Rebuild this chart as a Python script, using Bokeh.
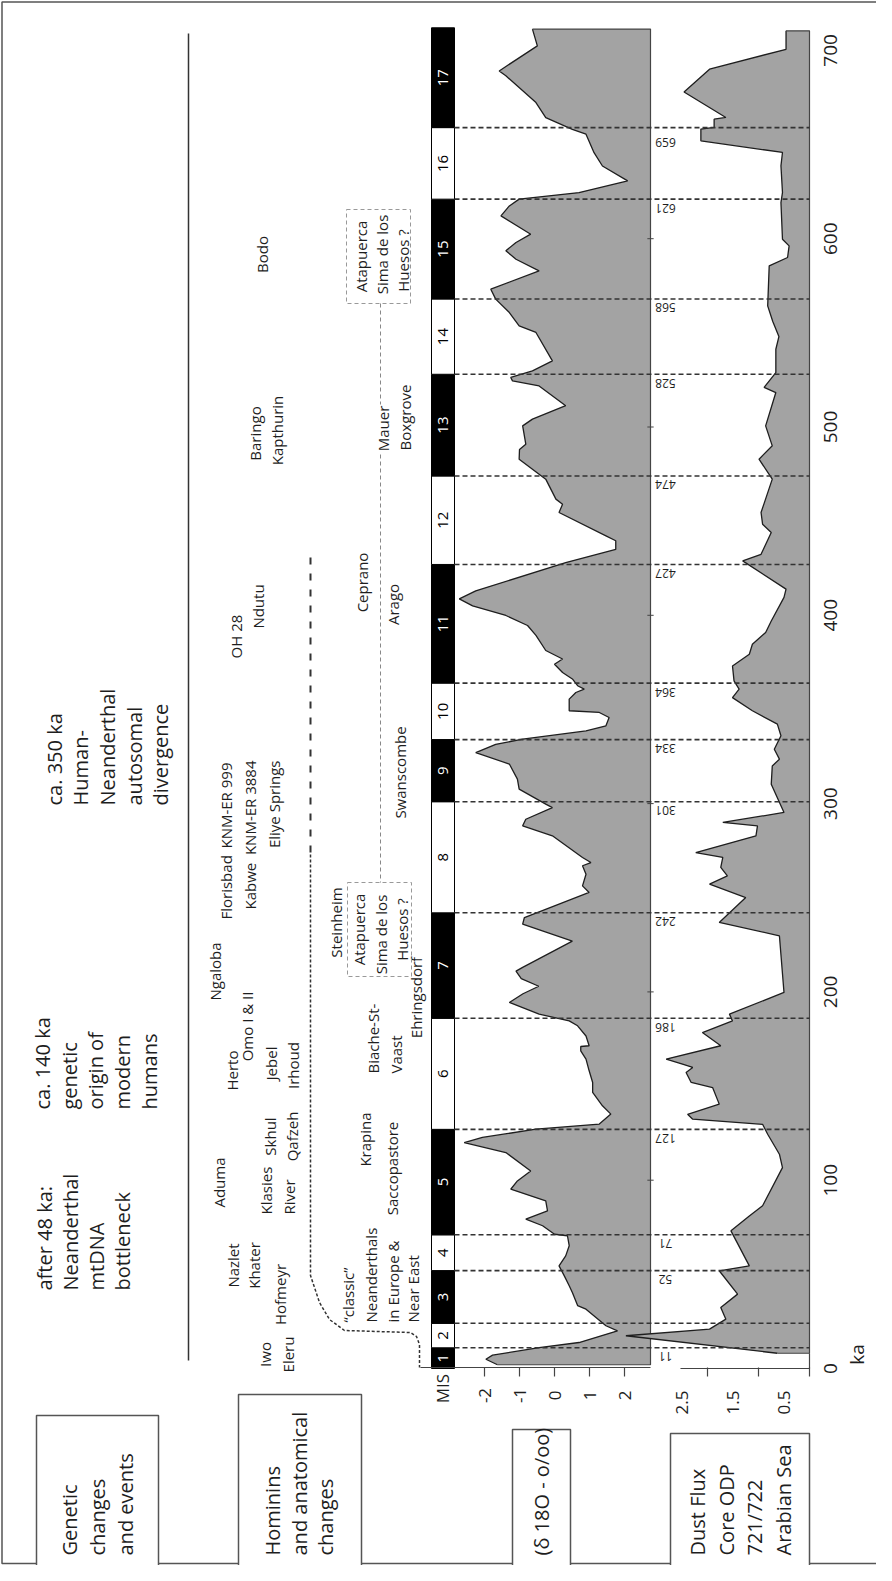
import math
from bokeh.plotting import figure
from bokeh.models import Range1d, ColumnDataSource
from bokeh.core.properties import value
from bokeh.embed import file_html
from bokeh.resources import INLINE

# ---------------- data ----------------
MIS_BOUNDS = [0, 11, 24, 52, 71, 127, 186, 242, 301, 334, 364, 427, 474, 528, 568, 621, 659, 712]
MIS_NUMBERS = [str(i) for i in range(1, 18)]
MIS_DASHED = [11, 24, 52, 71, 127, 186, 242, 301, 334, 364, 427, 474, 528, 568, 621, 659]
MIS_LABELED = [11, 52, 71, 127, 186, 242, 301, 334, 364, 427, 474, 528, 568, 621]
MIS_TOP_LABEL = [659]

D18O_KA = [2.0, 4.9, 7.1, 11.1, 13.8, 20.0, 22.7, 31.5, 33.4, 40.4, 43.9, 49.2, 54.5, 59.8, 65.2,
           70.5, 71.3, 75.8, 79.3, 83.7, 89.0, 95.2, 99.6, 104.9, 114.7, 120.0, 122.7, 127.1,
           129.8, 135.1, 139.5, 146.6, 151.9, 158.1, 164.3, 168.7, 171.0, 171.4, 176.6, 182.0,
           184.6, 188.2, 194.4, 199.0, 203.0, 207.0, 211.0, 213.0, 227.0, 236.0, 239.5, 252.8,
           256.3, 262.5, 267.0, 268.7, 271.4, 282.9, 288.2, 291.7, 297.9, 299.7, 307.7, 313.0,
           321.0, 327.1, 331.5, 334.2, 338.6, 341.3, 345.7, 348.4, 349.3, 355.5, 359.0, 360.8,
           362.6, 366.2, 369.6, 374.0, 376.8, 381.3, 389.3, 394.6, 399.9, 405.0, 408.7, 413.0,
           428.0, 435.0, 439.6, 442.2, 454.6, 459.0, 461.7, 472.3, 482.9, 488.0, 490.9, 500.6,
           504.2, 511.3, 521.8, 524.5, 526.3, 529.8, 535.1, 550.2, 553.7, 560.8, 567.9, 573.2,
           582.9, 589.1, 593.6, 598.0, 602.4, 612.1, 617.4, 621.0, 624.5, 630.7, 638.6, 645.7,
           655.5, 658.1, 664.3, 672.3, 686.5, 689.1, 702.4, 711.3]
D18O_VAL = [-1.63, -1.96, -1.77, -0.44, 0.70, 1.80, 1.47, 0.90, 0.66, 0.51, 0.42, 0.28, 0.13, 0.32, 0.42,
            0.37, 0.00, -0.34, -0.82, -0.20, -0.25, -1.25, -1.06, -0.68, -1.39, -2.58, -2.06, -0.53,
            1.28, 1.61, 1.37, 1.09, 1.09, 0.99, 0.90, 0.75, 0.75, 0.99, 0.90, 0.66,
            0.42, -0.44, -1.29, -0.90, -0.45, -0.95, -1.10, -0.91, 0.51, -0.91, -0.86, 0.99,
            0.80, 0.90, 0.80, 1.04, 0.80, -0.06, -0.91, -0.82, -0.06, -0.25, -1.01, -1.06,
            -1.29, -2.25, -1.68, -0.91, 0.90, 1.47, 1.56, 1.28, 0.42, 0.42, 0.61, 0.85,
            0.66, 0.51, 0.23, 0.00, 0.23, -0.25, -0.53, -0.77, -1.39, -2.34, -2.72, -2.25,
            0.32, 1.75, 1.75, 1.47, 0.13, 0.23, 0.04, -0.25, -1.01, -1.00, -0.82, -0.91,
            -0.63, 0.32, -0.44, -1.20, -1.25, -0.63, -0.06, -0.53, -1.01, -1.29, -1.68, -1.82,
            -0.44, -1.10, -1.39, -1.10, -0.68, -1.53, -1.29, -1.01, 0.70, 2.09, 1.37, 1.13,
            0.90, 0.51, -0.25, -0.53, -1.39, -1.58, -0.49, -0.63]

DUST_KA = [8.1, 17.4, 20.9, 26.2, 32.4, 39.5, 51.9, 54.5, 73.1, 81.0, 86.4, 106.7, 113.8, 124.4,
           129.7, 132.4, 135.0, 140.4, 149.2, 151.9, 157.2, 159.9, 161.6, 164.3, 171.4, 178.4,
           184.6, 188.2, 199.7, 229.8, 236.9, 250.1, 257.2, 261.6, 266.1, 271.4, 274.0, 282.9,
           288.2, 290.0, 295.3, 310.3, 320.0, 323.6, 328.9, 336.0, 342.2, 349.3, 356.3, 360.8,
           365.2, 373.1, 379.3, 384.6, 390.9, 397.0, 409.5, 413.9, 428.9, 432.4, 444.0, 448.4,
           454.6, 472.3, 482.9, 490.0, 500.6, 518.3, 521.0, 528.9, 541.3, 548.0, 556.0, 564.3,
           585.6, 590.0, 596.2, 599.7, 619.2, 624.5, 638.7, 645.8, 652.0, 658.2, 659.1, 663.5,
           664.4, 677.9, 690.0, 700.6, 710.4]
DUST_VAL = [0.63, 3.60, 1.96, 1.64, 1.74, 1.41, 1.77, 1.18, 1.54, 1.18, 0.92, 0.53, 0.59, 0.82,
            0.92, 2.29, 2.39, 1.77, 1.90, 2.32, 2.42, 2.29, 2.49, 2.81, 1.74, 2.10,
            1.51, 1.57, 0.50, 0.59, 1.77, 1.25, 1.96, 1.61, 1.74, 1.70, 2.23, 1.05,
            1.02, 1.70, 0.50, 0.75, 0.73, 0.59, 0.69, 0.56, 0.63, 1.12, 1.51, 1.38,
            1.48, 1.51, 1.18, 1.12, 0.86, 0.75, 0.50, 0.46, 1.31, 0.95, 0.75, 0.92,
            0.95, 0.73, 0.99, 0.73, 0.86, 0.66, 0.89, 0.66, 0.66, 0.60, 0.72, 0.82,
            0.79, 0.43, 0.40, 0.53, 0.56, 0.53, 0.56, 0.53, 2.13, 2.13, 1.87, 1.87,
            1.64, 2.46, 1.96, 0.46, 0.46]

KA_TICKS = [0, 100, 200, 300, 400, 500, 600, 700]
D18O_TICKS = [-2, -1, 0, 1, 2]
DUST_TICKS = [0, 1, 2]
DUST_TICK_LABELS = [2.5, 1.5, 0.5]

GENETIC_EVENTS = [
    ["after 48 ka:", "Neanderthal", "mtDNA", "bottleneck"],
    ["ca. 140 ka", "genetic", "origin of", "modern", "humans"],
    ["ca. 350 ka", "Human-", "Neanderthal", "autosomal", "divergence"],
]

# ---------------- layout constants (page pixels) ----------------
W, H, M = 876, 1565, 8
KA0_Y, PX_PER_KA = 1376.0, 1.883
D18O_ZERO_X, PX_PER_D18O = 562.0, 35.0
DUST_ZERO_X, PX_PER_DUST = 817.0, 51.0
D18O_RIGHT = (658 - D18O_ZERO_X) / PX_PER_D18O
FONT = value("Open Sans")
INK = "#1e1e1e"
GREY = "#a3a3a3"

p = figure(width=W, height=H, x_range=Range1d(M, M + W), y_range=Range1d(M + H, M),
           output_backend="svg", toolbar_location=None, min_border=0,
           x_axis_type=None, y_axis_type=None, background_fill_color="white")
p.outline_line_color = None
p.extra_y_ranges = {"ka": Range1d(start=(KA0_Y - (M + H)) / PX_PER_KA, end=(KA0_Y - M) / PX_PER_KA)}
p.extra_x_ranges = {
    "d18o": Range1d(start=(M - D18O_ZERO_X) / PX_PER_D18O, end=(M + W - D18O_ZERO_X) / PX_PER_D18O),
    "dust": Range1d(start=(DUST_ZERO_X - M) / PX_PER_DUST, end=(DUST_ZERO_X - (M + W)) / PX_PER_DUST),
}


def texts(items, size, align="center", angle=math.pi / 2, color=INK, xr="default", yr="default", baseline="middle"):
    src = ColumnDataSource(dict(t=[i[0] for i in items], x=[i[1] for i in items], y=[i[2] for i in items]))
    p.text(x="x", y="y", text="t", source=src, angle=angle, text_align=align, text_baseline=baseline,
           text_font=FONT, text_font_size=f"{size}px", text_color=color,
           x_range_name=xr, y_range_name=yr)


# outer frame lines and column separator
p.line([M + W, 9.5, 9.5, M + W], [9.5, 9.5, 1571, 1571], line_color="#555", line_width=1.5)
p.line([196, 196], [41, 1368], line_color="#333", line_width=1.5)

# ---------------- delta 18O panel ----------------
p.harea(x1=D18O_VAL, x2=D18O_RIGHT, y=D18O_KA, fill_color=GREY, x_range_name="d18o", y_range_name="ka")
p.line(D18O_VAL, D18O_KA, line_color=INK, line_width=1.3, x_range_name="d18o", y_range_name="ka")
p.line([D18O_VAL[-1], D18O_RIGHT, D18O_RIGHT, D18O_VAL[0]],
       [D18O_KA[-1], D18O_KA[-1], D18O_KA[0], D18O_KA[0]],
       line_color="#444", line_width=1.2, x_range_name="d18o", y_range_name="ka")
# small ka ticks on right border
p.segment(x0=D18O_RIGHT - 0.09, x1=D18O_RIGHT + 0.09, y0=KA_TICKS[1:7], y1=KA_TICKS[1:7],
          line_color="#444", line_width=1, x_range_name="d18o", y_range_name="ka")

# ---------------- dust panel ----------------
p.harea(x1=DUST_VAL, x2=0, y=DUST_KA, fill_color=GREY, x_range_name="dust", y_range_name="ka")
p.line(DUST_VAL, DUST_KA, line_color=INK, line_width=1.3, x_range_name="dust", y_range_name="ka")
p.line([DUST_VAL[-1], 0, 0, DUST_VAL[0]], [DUST_KA[-1], DUST_KA[-1], DUST_KA[0], DUST_KA[0]],
       line_color="#444", line_width=1.2, x_range_name="dust", y_range_name="ka")
p.line([2.53, 0, 0], [0, 0, DUST_KA[0]], line_color="#444", line_width=1.2,
       x_range_name="dust", y_range_name="ka")

# ---------------- MIS bar ----------------
bot = MIS_BOUNDS[:-1]
top = MIS_BOUNDS[1:]
cols = ["black" if i % 2 == 0 else "white" for i in range(len(bot))]
p.quad(left=439, right=462, bottom=bot, top=top, fill_color=cols, line_color="black", line_width=1,
       y_range_name="ka")
mids = [(a + b) / 2 for a, b in zip(bot, top)]
texts([(MIS_NUMBERS[i], 450.5, mids[i]) for i in range(0, len(mids), 2)], 15, color="white", yr="ka")
texts([(MIS_NUMBERS[i], 450.5, mids[i]) for i in range(1, len(mids), 2)], 15, color="black", yr="ka")

# MIS boundary dashed lines and labels
p.segment(x0=462, x1=817, y0=MIS_DASHED, y1=MIS_DASHED, line_color="#333", line_width=1.6,
          line_dash="5 3", y_range_name="ka")
src = ColumnDataSource(dict(t=[str(v) for v in MIS_LABELED], x=[673] * len(MIS_LABELED), y=MIS_LABELED))
p.text(x="x", y="y", text="t", source=src, angle=math.pi, text_align="center", text_baseline="middle",
       y_offset=9, text_font=FONT, text_font_size="12px", text_color=INK, y_range_name="ka")
src = ColumnDataSource(dict(t=[str(v) for v in MIS_TOP_LABEL], x=[673] * len(MIS_TOP_LABEL), y=MIS_TOP_LABEL))
p.text(x="x", y="y", text="t", source=src, angle=0, text_align="center", text_baseline="middle",
       y_offset=15, text_font=FONT, text_font_size="12px", text_color=INK, y_range_name="ka")

# ---------------- axes (drawn through the scales) ----------------
p.line([(428 - D18O_ZERO_X) / PX_PER_D18O, D18O_RIGHT], [1375, 1375], line_color="#444", line_width=1.2,
       x_range_name="d18o")
p.segment(x0=D18O_TICKS, x1=D18O_TICKS, y0=1375, y1=1384, line_color="#444", line_width=1.2,
          x_range_name="d18o")
texts([(str(v), v, 1403) for v in D18O_TICKS], 17, xr="d18o")
texts([("MIS", 450, 1396)], 17)
p.segment(x0=DUST_TICKS, x1=DUST_TICKS, y0=1375, y1=1384, line_color="#444", line_width=1.2,
          x_range_name="dust")
texts([(str(v), v, 1410) for v in DUST_TICK_LABELS], 17, xr="dust")
texts([(str(v), 838, v) for v in KA_TICKS], 19, yr="ka")
texts([("ka", 864, 1362)], 19)

# ---------------- genetic events ----------------
gen_x = [[52, 78, 104, 130], [50, 77, 103, 130, 157], [62, 88, 115, 142, 168]]
gen_y = [1298, 1117, 813]
items = []
for lines, xs, y in zip(GENETIC_EVENTS, gen_x, gen_y):
    items += [(t, x, y) for t, x in zip(lines, xs)]
texts(items, 20, align="left")

# ---------------- hominins ----------------
hom_center = [
    ("Iwo", 272, 1362), ("Eleru", 295, 1362), ("Nazlet", 240, 1273), ("Khater", 261, 1273),
    ("Hofmeyr", 287, 1302), ("Aduma", 226, 1190), ("Skhul", 277, 1144), ("Qafzeh", 299, 1144),
    ("Herto", 239, 1078), ("Omo  I & II", 254, 1032), ("Jebel", 278, 1071), ("Irhoud", 300, 1073),
    ("Ngaloba", 222, 979), ("OH 28", 243, 644), ("Ndutu", 265, 614), ("Baringo", 262, 441),
    ("Kapthurin", 284, 438), ("Bodo", 269, 262), ("Atapuerca", 368, 264), ("Sima de los", 389, 262),
    ("Huesos ?", 410, 268), ("Mauer", 390, 436), ("Boxgrove", 412, 425), ("Ceprano", 369, 590),
    ("Arago", 400, 612), ("Swanscombe", 407, 780), ("Steinheim", 343, 930), ("Atapuerca", 366, 937),
    ("Sima de los", 388, 942), ("Huesos ?", 409, 937), ("Ehringsdorf", 423, 1005),
    ("Krapina", 372, 1147), ("Saccopastore", 399, 1176),
]
hom_left = [
    ("Klasies", 273, 1222), ("River", 296, 1222), ("Florisbad", 233, 927), ("Kabwe", 257, 917),
    ("Biache-St-", 380, 1081), ("Vaast", 403, 1081),
    ("\u201cclassic\u201d", 355, 1330), ("Neanderthals", 378, 1330), ("in Europe &", 400, 1330),
    ("Near East", 420, 1330),
]
hom_right = [("KNM-ER 999", 233, 770), ("KNM-ER 3884", 257, 768), ("Eliye Springs", 281, 768)]
texts(hom_center, 15)
texts(hom_left, 15, align="left")
texts(hom_right, 15, align="right")

# dashed annotation lines
p.line([318, 318], [565, 862], line_color="#333", line_width=2, line_dash="7 9")
p.line([318, 318, 327, 337, 352, 418, 424, 427, 427], [862, 1283, 1310, 1327, 1338, 1340, 1344, 1352, 1375],
       line_color="#333", line_width=1.5, line_dash="3 2")
p.segment(x0=[388, 388], x1=[388, 388], y0=[311, 462], y1=[412, 890], line_color="#888", line_width=1,
          line_dash="4 3")
for (l, r, t, b) in [(354, 418, 217, 311), (355, 419, 890, 984)]:
    p.line([l, r, r, l, l], [t, t, b, b, t], line_color="#999", line_width=1, line_dash="4 3")

# ---------------- bottom label boxes ----------------
boxes = [(44, 166, 1423), (246, 369, 1402), (520, 578, 1437), (678, 817, 1441)]
p.quad(left=[b[0] for b in boxes], right=[b[1] for b in boxes], top=[b[2] for b in boxes],
       bottom=[1600] * 4, fill_color="white", line_color="#555", line_width=1.5)
box_text = [
    ("Genetic", 77, 1563), ("changes", 105, 1563), ("and events", 133, 1563),
    ("Hominins", 280, 1563), ("and anatomical", 307, 1563), ("changes", 333, 1563),
    ("(\u03b4 18O - o/oo)", 549, 1563),
    ("Dust Flux", 705, 1563), ("Core  ODP", 734, 1563), ("721/722", 762, 1563), ("Arabian Sea", 791, 1563),
]
texts(box_text, 20, align="left")

open("out.html", "w").write(file_html(p, INLINE))
